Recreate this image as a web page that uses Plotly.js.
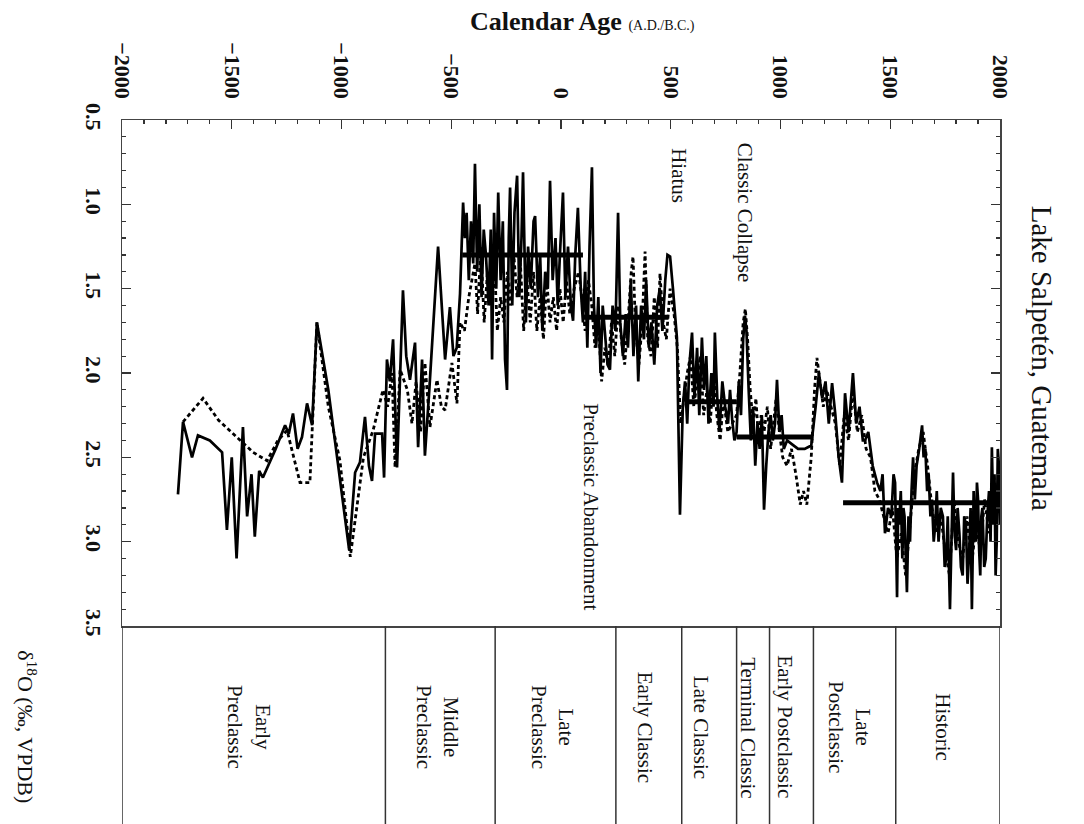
<!DOCTYPE html>
<html>
<head>
<meta charset="utf-8">
<script src="https://cdn.plot.ly/plotly-3.0.1.min.js"></script>
<style>html,body{margin:0;padding:0;background:#fff;}#chart{width:1084px;height:824px;}</style>
</head>
<body>
<div id="chart"></div>
<script>
// ---- data ----
const solidYear = [-1745,-1722,-1681,-1654,-1600,-1544,-1522,-1500,-1478,-1449,-1430,-1410,-1395,-1375,-1358,-1300,-1257,-1240,-1221,-1200,-1180,-1157,-1134,-1112,-1060,-1021,-990,-965,-938,-916,-893,-875,-861,-847,-815,-806,-793,-780,-765,-747,-720,-705,-688,-665,-651,-633,-620,-600,-560,-528,-506,-490,-475,-460,-446,-438,-430,-420,-410,-400,-392,-382,-372,-362,-352,-342,-330,-320,-314,-305,-295,-286,-275,-265,-255,-246,-238,-232,-222,-212,-200,-190,-180,-173,-160,-150,-138,-125,-118,-105,-95,-85,-72,-60,-50,-38,-25,-15,-5,9,20,32,45,55,65,77,90,100,110,120,130,141,150,160,170,180,190,200,212,223,235,248,260,270,282,295,305,318,330,342,352,365,378,388,400,412,425,438,450,462,475,485,497,510,528,542,555,565,575,585,597,608,620,630,642,652,662,672,685,695,701,712,722,735,748,761,770,780,790,800,810,820,830,838,845,855,865,875,885,895,905,915,925,935,945,955,965,975,984,995,1005,1015,1030,1050,1080,1110,1140,1160,1175,1190,1205,1220,1235,1250,1265,1280,1294,1310,1330,1345,1360,1375,1385,1400,1420,1440,1455,1465,1476,1490,1505,1515,1522,1531,1536,1540,1548,1555,1560,1565,1570,1576,1583,1590,1597,1604,1612,1620,1632,1645,1652,1660,1668,1675,1683,1690,1698,1705,1712,1720,1730,1740,1748,1755,1762,1772,1786,1793,1800,1807,1815,1822,1830,1837,1845,1852,1860,1866,1872,1880,1885,1890,1895,1900,1905,1910,1915,1920,1928,1935,1942,1950,1957,1963,1970,1975,1980,1985,1990,1995,2000];
const solidD18O = [2.72,2.29,2.50,2.37,2.40,2.47,2.93,2.50,3.10,2.32,2.85,2.60,2.97,2.58,2.62,2.45,2.31,2.36,2.24,2.45,2.38,2.18,2.31,1.70,2.10,2.50,2.80,3.05,2.59,2.53,2.26,2.55,2.64,2.36,2.36,2.62,1.92,2.05,1.80,2.56,1.51,1.90,2.04,1.82,2.44,1.92,2.49,2.10,1.25,1.92,1.61,1.90,1.85,1.53,0.99,1.20,1.05,1.45,1.10,1.35,0.76,1.40,1.00,1.55,1.15,1.30,1.60,1.15,1.92,1.05,1.50,0.93,1.45,1.10,1.92,2.10,1.20,0.90,1.60,1.05,0.83,1.55,1.20,0.81,1.70,1.25,1.50,1.10,1.07,1.55,1.30,1.75,1.40,1.50,0.86,1.45,1.20,1.60,1.30,0.93,1.55,1.25,1.60,1.69,1.30,1.02,1.50,1.70,1.40,1.85,1.25,0.78,1.60,1.85,1.55,2.00,1.60,1.75,1.95,1.98,1.60,1.75,1.05,1.70,1.90,1.65,1.85,1.45,1.90,1.60,2.05,1.60,1.80,1.45,1.85,1.70,1.95,1.60,1.50,1.75,1.45,1.30,1.31,1.50,1.79,2.84,2.20,2.05,2.30,1.95,1.76,2.15,1.85,2.25,1.79,2.10,1.90,2.30,2.00,2.20,1.76,2.15,2.35,2.05,2.20,2.30,2.10,2.28,2.40,2.35,2.05,2.25,1.80,1.66,1.75,2.10,2.40,2.20,2.55,2.30,2.45,2.25,2.81,2.55,2.35,2.25,2.40,2.30,2.04,2.35,2.25,2.45,2.40,2.42,2.45,2.45,2.43,2.20,2.00,2.15,2.05,2.30,2.06,2.25,2.50,2.65,2.12,2.35,2.00,2.30,2.20,2.40,2.40,2.35,2.55,2.65,2.70,2.60,2.95,2.80,2.85,2.60,2.65,3.33,2.80,2.90,2.70,3.10,2.80,2.85,3.05,3.30,2.85,3.00,2.70,2.50,2.75,2.55,2.45,2.31,2.50,2.45,2.70,2.60,2.85,2.75,3.00,2.90,2.70,3.00,2.80,2.85,3.15,3.10,2.85,3.40,2.59,2.95,3.05,2.80,2.95,3.15,3.20,2.85,2.90,3.25,3.05,2.80,3.40,2.70,2.95,3.00,2.65,2.75,3.05,3.20,2.85,2.80,3.15,3.10,2.85,2.70,3.00,2.44,2.90,2.60,3.20,3.00,2.45,2.55,2.90];

const dashedYear = [-1722,-1631,-1560,-1494,-1403,-1339,-1290,-1248,-1189,-1144,-1112,-1060,-1007,-960,-930,-900,-856,-811,-790,-770,-756,-733,-700,-679,-660,-640,-620,-597,-565,-545,-528,-497,-474,-460,-440,-420,-392,-380,-365,-350,-335,-320,-305,-290,-275,-260,-245,-230,-215,-200,-185,-170,-155,-140,-125,-110,-95,-80,-65,-50,-35,-20,-5,10,25,40,60,80,95,110,125,140,155,170,185,200,215,230,245,260,275,290,305,320,328,340,355,370,383,395,410,425,440,451,465,480,497,515,530,545,560,575,590,605,620,635,650,665,680,695,710,725,740,760,780,800,815,830,840,850,862,875,888,900,912,925,940,955,968,980,995,1010,1030,1050,1070,1090,1105,1120,1140,1155,1166,1180,1195,1210,1230,1250,1270,1290,1310,1330,1350,1370,1390,1410,1430,1450,1470,1490,1510,1530,1550,1570,1590,1610,1630,1650,1670,1690,1710,1730,1750,1770,1790,1810,1830,1850,1870,1890,1910,1930,1950,1970,1990];
const dashedD18O = [2.29,2.15,2.28,2.36,2.47,2.52,2.40,2.34,2.65,2.65,1.70,2.20,2.52,3.09,2.80,2.50,2.34,2.10,2.20,2.00,2.56,1.98,2.10,2.30,2.05,2.35,1.94,2.32,2.04,2.20,2.22,1.94,2.18,1.70,1.75,1.55,1.35,1.65,1.25,1.70,1.40,1.60,1.30,1.75,1.55,1.70,1.40,1.60,1.30,1.55,1.35,1.75,1.45,1.70,1.40,1.75,1.55,1.80,1.45,1.70,1.55,1.75,1.50,1.70,1.45,1.65,1.50,1.40,1.55,1.75,1.45,1.60,1.85,1.70,2.05,1.85,1.95,1.70,1.90,1.60,1.80,1.95,1.70,1.40,1.31,1.75,1.95,1.70,1.28,1.80,1.90,1.55,1.85,1.41,1.70,1.80,1.50,1.65,1.85,2.30,2.15,2.00,1.90,2.20,2.05,1.90,2.25,2.10,2.30,2.00,2.25,2.40,2.15,2.35,2.30,2.25,2.00,1.70,1.62,1.80,2.10,2.30,2.15,2.40,2.25,2.35,2.20,2.45,2.30,2.15,2.35,2.50,2.55,2.45,2.60,2.78,2.70,2.78,2.50,2.10,1.91,2.05,2.20,2.10,2.20,2.30,2.55,2.25,2.40,2.10,2.35,2.25,2.45,2.50,2.70,2.75,2.85,2.95,2.80,3.10,2.95,3.20,2.90,2.60,2.45,2.35,2.55,2.80,2.95,2.85,3.05,3.20,2.75,3.00,3.10,2.85,3.15,2.90,3.05,2.75,2.95,2.60,2.75];

// thick mean segments
const stepYear = [-450,100,null,100,490,null,580,800,null,800,1150,null,1285,2000];
const stepD18O = [1.30,1.30,null,1.67,1.67,null,2.17,2.17,null,2.38,2.38,null,2.77,2.77];

// cultural periods
const periodBounds = [-2000,-800,-300,250,550,800,950,1150,1525,2000];
const periodNames = ["Early<br>Preclassic","Middle<br>Preclassic","Late<br>Preclassic","Early Classic","Late Classic","Terminal Classic","Early Postclassic","Late<br>Postclassic","Historic"];
const periodLabelYears = [-1420,-560,-36,380,635,852,1020,1317,1740];

const xTicks = [-2000,-1500,-1000,-500,0,500,1000,1500,2000];
const yTicks = [0.5,1.0,1.5,2.0,2.5,3.0,3.5];

const eventNames = ["Hiatus","Classic Collapse","Preclassic Abandonment"];
const eventYears = [540,838,137];
const eventD18O = [0.83,1.05,2.79];

// ---- figure ----
const serif = "Liberation Serif, Times New Roman, serif";
const traces = [
  {x: dashedYear, y: dashedD18O, mode:'lines', line:{color:'#000', width:2.8, dash:'4px,3px'}, hoverinfo:'skip'},
  {x: solidYear, y: solidD18O, mode:'lines', line:{color:'#000', width:2.7}, hoverinfo:'skip'},
  {x: stepYear, y: stepD18O, mode:'lines', line:{color:'#000', width:5}, connectgaps:false, hoverinfo:'skip'}
];

const shapes = periodBounds.map(b => ({type:'line', xref:'x', yref:'paper', x0:b, x1:b, y0:0, y1:-0.42, line:{color:'#333', width:1.5}}));

const annotations = [];
periodNames.forEach((n,i) => annotations.push({
  text:n, x:periodLabelYears[i], xref:'x', y:-0.2, yref:'paper', textangle:90, showarrow:false,
  font:{family:serif, size:21, color:'#111'}, xanchor:'center', yanchor:'middle', align:'center'
}));
eventNames.forEach((n,i) => annotations.push({
  text:n, x:eventYears[i], xref:'x', y:eventD18O[i], yref:'y', textangle:90, showarrow:false,
  font:{family:serif, size:21, color:'#111'}
}));
annotations.push({text:"<b>Calendar Age</b> <span style='font-size:14px'>(A.D./B.C.)</span>", xref:'paper', yref:'paper', x:0.525, y:1.195, xanchor:'center', yanchor:'middle', showarrow:false, font:{family:serif, size:26, color:'#111'}});
annotations.push({text:"Lake Salpetén, Guatemala", xref:'paper', yref:'paper', x:1.048, y:0.53, xanchor:'center', yanchor:'middle', textangle:90, showarrow:false, font:{family:serif, size:29, color:'#111'}});
annotations.push({text:"δ<sup>18</sup>O (‰, VPDB)", xref:'paper', yref:'paper', x:-0.09, y:-0.2, xanchor:'right', yanchor:'middle', textangle:90, showarrow:false, font:{family:serif, size:22, color:'#111'}});

const layout = {
  width:1084, height:824,
  margin:{l:122, r:84, t:120, b:198},
  paper_bgcolor:'#fff', plot_bgcolor:'#fff',
  showlegend:false,
  xaxis:{range:[-2000,2000], side:'top', tickvals:xTicks, tickangle:90, ticks:'inside', ticklen:9, tickwidth:1.2, tickcolor:'#333',
    minor:{dtick:100, ticks:'inside', ticklen:4, tickcolor:'#333'},
    showline:true, linecolor:'#444', linewidth:1.5, mirror:true, showgrid:false, zeroline:false,
    tickfont:{family:serif, size:22, color:'#111', weight:'bold'}, ticklabelstandoff:12},
  yaxis:{range:[3.5,0.5], tickvals:yTicks, tickformat:'.1f', tickangle:90, ticks:'inside', ticklen:9, tickwidth:1.2, tickcolor:'#333',
    minor:{dtick:0.1, ticks:'inside', ticklen:4, tickcolor:'#333'},
    showline:true, linecolor:'#444', linewidth:1.5, mirror:'ticks', showgrid:false, zeroline:false,
    tickfont:{family:serif, size:22, color:'#111', weight:'bold'}, ticklabelstandoff:8},
  shapes:shapes, annotations:annotations
};
Plotly.newPlot('chart', traces, layout, {staticPlot:true, displayModeBar:false});
</script>
</body>
</html>
